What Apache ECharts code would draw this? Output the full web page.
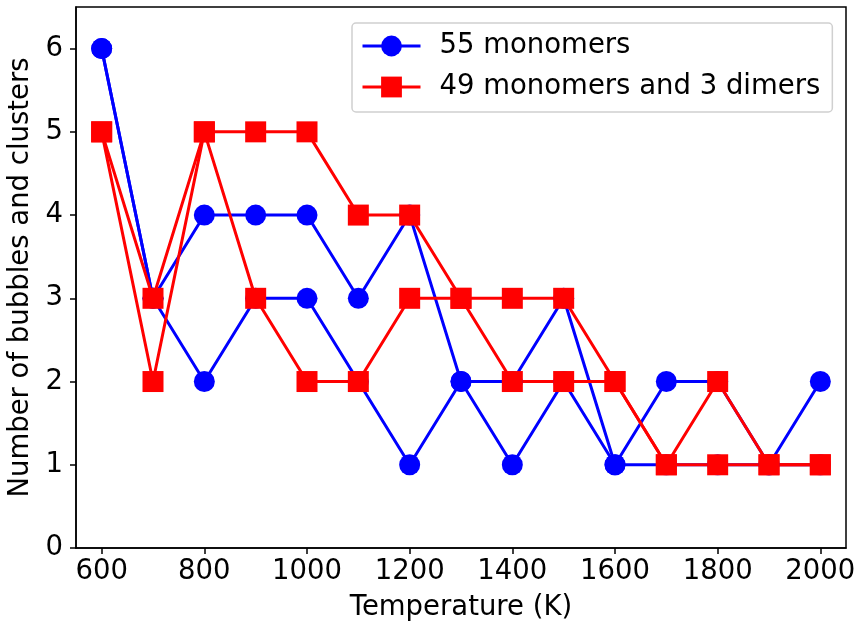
<!DOCTYPE html>
<html>
<head>
<meta charset="utf-8">
<script src="https://cdn.jsdelivr.net/npm/echarts@6/dist/echarts.min.js"></script>
<style>
  html, body { margin: 0; padding: 0; background: #fff; }
  #main { width: 856px; height: 623px; }
</style>
</head>
<body>
<div id="main"></div>
<script>
// temperatures (K)
const temps = [600, 700, 800, 900, 1000, 1100, 1200, 1300, 1400, 1500, 1600, 1700, 1800, 1900, 2000];
// 55 monomers, two runs
const monoA = [6, 3, 4, 4, 4, 3, 4, 2, 2, 3, 1, 2, 2, 1, 2];
const monoB = [6, 3, 2, 3, 3, 2, 1, 2, 1, 2, 1, 1, 1, 1, 1];
// 49 monomers and 3 dimers, two runs
const dimA = [5, 3, 5, 5, 5, 4, 4, 3, 3, 3, 2, 1, 2, 1, 1];
const dimB = [5, 2, 5, 3, 2, 2, 3, 3, 2, 2, 2, 1, 1, 1, 1];

const xTicks = [600, 800, 1000, 1200, 1400, 1600, 1800, 2000];
const yTicks = [0, 1, 2, 3, 4, 5, 6];

const nameMono = '55 monomers';
const nameDim = '49 monomers and 3 dimers';
const font = 'DejaVu Sans';
const fs = 27.5;

const pairs = (ys) => temps.map((t, i) => [t, ys[i]]);

const mkSeries = (name, ys, color, symbol, size) => ({
  name: name,
  type: 'line',
  data: pairs(ys),
  symbol: symbol,
  symbolSize: size,
  showAllSymbol: true,
  color: color,
  lineStyle: { color: color, width: 3 },
  itemStyle: { color: color },
  emphasis: { disabled: true },
  animation: false
});

const option = {
  animation: false,
  textStyle: { fontFamily: font },
  grid: {
    left: 76, right: 10, top: 7, bottom: 75,
    outerBoundsMode: 'none',
    show: true, borderColor: '#000', borderWidth: 1.5
  },
  legend: {
    orient: 'vertical',
    left: 352, top: 23,
    padding: [9, 12, 11, 9],
    itemWidth: 58, itemHeight: 26, itemGap: 13,
    lineStyle: { width: 3 },
    borderColor: '#d0d0d0', borderWidth: 1.5, borderRadius: 4,
    textStyle: { fontFamily: font, fontSize: fs, color: '#000', padding: [0, 0, 0, 14] },
    data: [nameMono, nameDim]
  },
  xAxis: {
    type: 'value',
    min: 550, max: 2050,
    name: 'Temperature (K)',
    nameLocation: 'middle',
    nameGap: 46,
    nameTextStyle: { fontFamily: font, fontSize: fs, color: '#000' },
    axisLine: { onZero: false, lineStyle: { color: '#000', width: 1.5 } },
    axisTick: { show: true, length: 6, lineStyle: { color: '#000', width: 1.5 }, customValues: xTicks },
    axisLabel: {
      fontFamily: font, fontSize: fs, color: '#000', margin: 10,
      customValues: xTicks,
      formatter: (v) => String(v)
    },
    splitLine: { show: false }
  },
  yAxis: {
    type: 'value',
    min: 0, max: 6.5,
    name: 'Number of bubbles and clusters',
    nameLocation: 'middle',
    nameGap: 37,
    nameTextStyle: { fontFamily: font, fontSize: fs, color: '#000' },
    axisLine: { show: true, lineStyle: { color: '#000', width: 1.5 } },
    axisTick: { show: true, length: 6, lineStyle: { color: '#000', width: 1.5 }, customValues: yTicks },
    axisLabel: { fontFamily: font, fontSize: fs, color: '#000', margin: 13, customValues: yTicks },
    splitLine: { show: false }
  },
  series: [
    mkSeries(nameMono, monoA, '#0000ff', 'circle', 21),
    mkSeries(nameMono, monoB, '#0000ff', 'circle', 21),
    mkSeries(nameDim, dimA, '#ff0000', 'rect', 21),
    mkSeries(nameDim, dimB, '#ff0000', 'rect', 21)
  ]
};

echarts.init(document.getElementById('main')).setOption(option);
</script>
</body>
</html>
